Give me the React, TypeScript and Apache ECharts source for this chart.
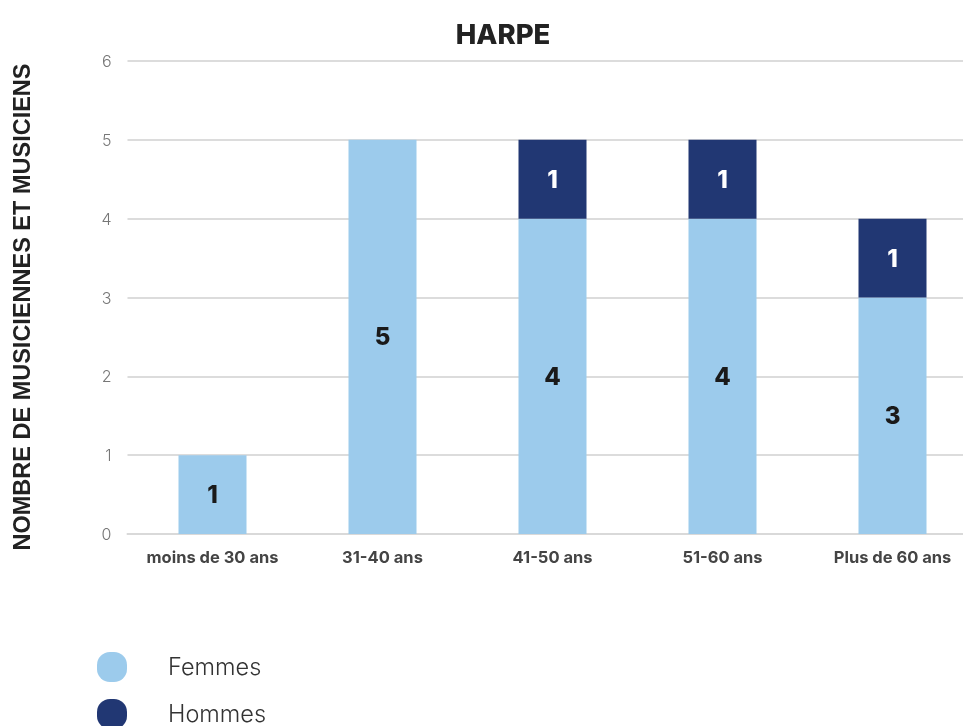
import React, { useEffect, useRef } from "react";
import * as echarts from "echarts";

const title = "HARPE";
const yAxisName = "NOMBRE DE MUSICIENNES ET MUSICIENS";
const categories = ["moins de 30 ans", "31-40 ans", "41-50 ans", "51-60 ans", "Plus de 60 ans"];
const femmes = [1, 5, 4, 4, 3];
const hommes = [0, 0, 1, 1, 1];
const seriesNames = ["Femmes", "Hommes"];
const colors = ["#9ccbec", "#213773"];

export default function App() {
  const ref = useRef<HTMLDivElement>(null);
  useEffect(() => {
    if (!ref.current) return;
    const chart = echarts.init(ref.current, null, { renderer: "svg" });
    const font = "Inter, 'Noto Sans', sans-serif";
    const legendItems: any[] = [];
    seriesNames.forEach((name, i) => {
      const y = 652 + i * 47;
      legendItems.push({
        type: "rect",
        shape: { x: 97, y, width: 30, height: 30, r: 13 },
        style: { fill: colors[i] },
      });
      legendItems.push({
        type: "text",
        x: 168,
        y: y + 14,
        style: {
          text: name,
          font: `300 23.5px ${font}`,
          fill: "#333",
          textVerticalAlign: "middle",
        },
      });
    });
    chart.setOption({
      animation: false,
      title: {
        text: title,
        left: 498,
        textAlign: "center",
        top: 15,
        textStyle: { fontFamily: font, fontSize: 27.5, fontWeight: 800, color: "#222" },
      },
      grid: { left: 127.5, width: 850, top: 61, bottom: 192, outerBoundsMode: "none", containLabel: false },
      graphic: [
        {
          type: "text",
          x: 22,
          y: 307,
          rotation: Math.PI / 2,
          style: {
            text: yAxisName,
            font: "bold 23.5px 'Liberation Sans', Arial, sans-serif",
            fill: "#222",
            textAlign: "center",
            textVerticalAlign: "middle",
          },
        },
        ...legendItems,
      ],
      xAxis: {
        type: "category",
        data: categories,
        axisTick: { show: false },
        axisLine: { lineStyle: { color: "#d9d9d9", width: 2 } },
        axisLabel: { interval: 0, fontFamily: font, fontSize: 16.5, fontWeight: 700, color: "#444", margin: 14 },
      },
      yAxis: {
        type: "value",
        min: 0,
        max: 6,
        interval: 1,
        axisLabel: { fontFamily: font, fontSize: 16, fontWeight: 300, color: "#777", margin: 16 },
        splitLine: { lineStyle: { color: "#dcdcdc", width: 2 } },
        axisLine: { show: false },
        axisTick: { show: false },
      },
      series: [
        {
          name: seriesNames[0],
          type: "bar",
          stack: "a",
          barWidth: "40%",
          data: femmes,
          itemStyle: { color: colors[0] },
          label: {
            show: true,
            position: "inside",
            fontFamily: font,
            fontSize: 24,
            fontWeight: 800,
            color: "#1a1a1a",
          },
        },
        {
          name: seriesNames[1],
          type: "bar",
          stack: "a",
          barWidth: "40%",
          data: hommes.map((v) => (v === 0 ? null : v)),
          itemStyle: { color: colors[1] },
          label: {
            show: true,
            position: "inside",
            fontFamily: font,
            fontSize: 24,
            fontWeight: 800,
            color: "#ffffff",
          },
        },
      ],
    });
    return () => chart.dispose();
  }, []);
  return <div ref={ref} style={{ position: "fixed", left: 0, top: 0, width: 963, height: 726 }} />;
}
